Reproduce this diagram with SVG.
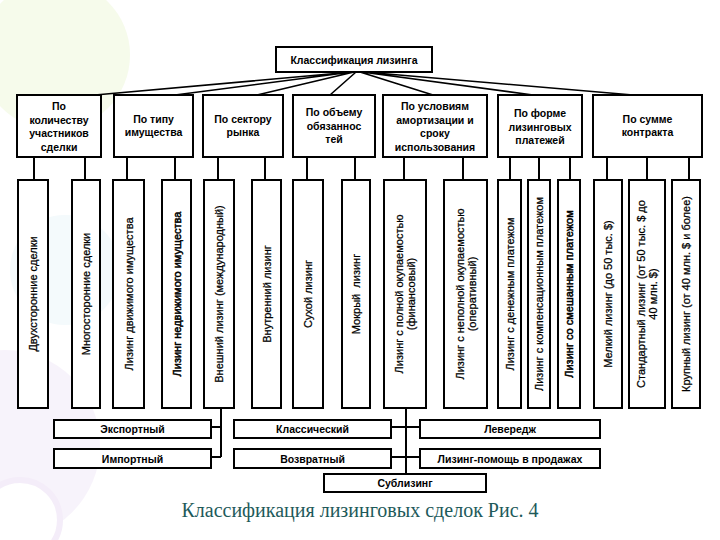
<svg xmlns="http://www.w3.org/2000/svg" width="720" height="540" viewBox="0 0 720 540">
<style>
.box{fill:#fff;stroke:#000;stroke-width:2}
.ln{stroke:#000;stroke-width:2;fill:none}
.fan{stroke:#000;stroke-width:1.6;fill:none}
.t{font-family:"Liberation Sans",Arial,sans-serif;font-size:10.5px;font-weight:bold;text-anchor:middle;fill:#000}
.v{font-family:"Liberation Sans",Arial,sans-serif;font-size:11px;text-anchor:middle;fill:#000;stroke:#000;stroke-width:0.25;white-space:pre}
.vb{stroke-width:0.5}
.cap{font-family:"Liberation Serif","Times New Roman",serif;font-size:20px;text-anchor:middle;fill:#1e5a5a}
</style>
<rect width="720" height="540" fill="#fff"/>
<g id="decor" opacity="0.5">
<circle cx="55" cy="55" r="75" fill="#eef8d8"/>
<circle cx="65" cy="270" r="55" fill="#eaf6fa"/>
<circle cx="5" cy="445" r="95" fill="#f1e8f8"/>
<circle cx="20" cy="520" r="40" fill="#fff" stroke="#eadcf4" stroke-width="6"/>
</g>
<g id="connectors">
<path class="fan" d="M352 72 L95 95 M352 72 L175 95 M354 72 L257 95 M356 72 L330 95 M360 72 L433 95 M362 72 L533 95 M364 72 L633 95"/>
<path class="ln" d="M34 157V180 M85 157V180 M127 157V180 M175 157V180 M218 157V180 M265 157V180 M307 157V180 M355 157V180 M404 157V180 M463 157V180 M510 157V180 M539 157V180 M570 157V180 M607 157V180 M647 157V180 M689 157V180"/>
<path class="ln" d="M221 408V457 M211 427H221 M211 457H221"/>
<path class="ln" d="M406 408V474 M391 427H420 M391 457H420"/>
</g>
<g id="root"><rect class="box" x="276" y="47" width="156" height="25"/><text class="t" x="354" y="64">Классификация лизинга</text></g>
<g id="c1"><rect class="box" x="17" y="95" width="84" height="62"/><text class="t" x="59" y="110">По</text><text class="t" x="59" y="123.5">количеству</text><text class="t" x="59" y="137">участников</text><text class="t" x="59" y="150.5">сделки</text></g>
<g id="c2"><rect class="box" x="114" y="95" width="79" height="62"/><text class="t" x="153.5" y="123">По типу</text><text class="t" x="153.5" y="136">имущества</text></g>
<g id="c3"><rect class="box" x="203" y="95" width="80" height="62"/><text class="t" x="243" y="123">По сектору</text><text class="t" x="243" y="136">рынка</text></g>
<g id="c4"><rect class="box" x="293" y="95" width="82" height="62"/><text class="t" x="334" y="116">По объему</text><text class="t" x="334" y="129.5">обязаннос</text><text class="t" x="334" y="143">тей</text></g>
<g id="c5"><rect class="box" x="383" y="95" width="104" height="62"/><text class="t" x="435" y="110">По условиям</text><text class="t" x="435" y="123.5">амортизации и</text><text class="t" x="435" y="137">сроку</text><text class="t" x="435" y="150.5">использования</text></g>
<g id="c6"><rect class="box" x="498" y="95" width="84" height="62"/><text class="t" x="540" y="117">По форме</text><text class="t" x="540" y="130.5">лизинговых</text><text class="t" x="540" y="144">платежей</text></g>
<g id="c7"><rect class="box" x="593" y="95" width="109" height="62"/><text class="t" x="647.5" y="123">По сумме</text><text class="t" x="647.5" y="136">контракта</text></g>
<g id="v1"><rect class="box" x="18" y="180" width="30" height="228"/><text class="v" transform="translate(33 294) rotate(-90)" y="4">Двухсторонние сделки</text></g>
<g id="v2"><rect class="box" x="72" y="180" width="28" height="228"/><text class="v" transform="translate(86 294) rotate(-90)" y="4">Многосторонние сделки</text></g>
<g id="v3"><rect class="box" x="113" y="180" width="31" height="228"/><text class="v" transform="translate(128.5 294) rotate(-90)" y="4">Лизинг движимого имущества</text></g>
<g id="v4"><rect class="box" x="162" y="180" width="29" height="228"/><text class="v vb" transform="translate(176.5 294) rotate(-90)" y="4">Лизинг недвижимого имущества</text></g>
<g id="v5"><rect class="box" x="204" y="180" width="30" height="228"/><text class="v" transform="translate(219 294) rotate(-90)" y="4">Внешний лизинг (международный)</text></g>
<g id="v6"><rect class="box" x="252" y="180" width="29" height="228"/><text class="v" transform="translate(266.5 294) rotate(-90)" y="4">Внутренний лизинг</text></g>
<g id="v7"><rect class="box" x="293" y="180" width="30" height="228"/><text class="v" transform="translate(308 294) rotate(-90)" y="4">Сухой лизинг</text></g>
<g id="v8"><rect class="box" x="342" y="180" width="28" height="228"/><text class="v" transform="translate(356 294) rotate(-90)" y="4">Мокрый  лизинг</text></g>
<g id="v9"><rect class="box" x="384" y="180" width="42" height="228"/><text class="v" transform="translate(405 294) rotate(-90)" y="-2">Лизинг с полной окупаемостью</text><text class="v" transform="translate(405 294) rotate(-90)" y="10">(финансовый)</text></g>
<g id="v10"><rect class="box" x="444" y="180" width="43" height="228"/><text class="v" transform="translate(465.5 294) rotate(-90)" y="-2">Лизинг с неполной окупаемостью</text><text class="v" transform="translate(465.5 294) rotate(-90)" y="10">(оперативный)</text></g>
<g id="v11"><rect class="box" x="498" y="180" width="23" height="228"/><text class="v" transform="translate(509.5 294) rotate(-90)" y="4">Лизинг с денежным платежом</text></g>
<g id="v12"><rect class="box" x="528" y="180" width="22" height="228"/><text class="v" transform="translate(539 294) rotate(-90)" y="4">Лизинг с компенсационным платежом</text></g>
<g id="v13"><rect class="box" x="558" y="180" width="22" height="228"/><text class="v vb" transform="translate(569 294) rotate(-90)" y="4">Лизинг со смешанным платежом</text></g>
<g id="v14"><rect class="box" x="594" y="180" width="28" height="228"/><text class="v" transform="translate(608 294) rotate(-90)" y="4">Мелкий лизинг (до 50 тыс. $)</text></g>
<g id="v15"><rect class="box" x="629" y="180" width="36" height="228"/><text class="v" transform="translate(647 294) rotate(-90)" y="-2">Стандартный лизинг (от 50 тыс. $ до</text><text class="v" transform="translate(647 294) rotate(-90)" y="10">40 млн. $)</text></g>
<g id="v16"><rect class="box" x="672" y="180" width="28" height="228"/><text class="v" transform="translate(686 294) rotate(-90)" y="4">Крупный лизинг (от 40 млн. $ и более)</text></g>
<g id="b1"><rect class="box" x="54" y="420" width="157" height="18"/><text class="t" x="132.5" y="433">Экспортный</text></g>
<g id="b2"><rect class="box" x="54" y="449" width="157" height="19"/><text class="t" x="132.5" y="462.5">Импортный</text></g>
<g id="b3"><rect class="box" x="234" y="420" width="157" height="18"/><text class="t" x="312.5" y="433">Классический</text></g>
<g id="b4"><rect class="box" x="234" y="449" width="157" height="19"/><text class="t" x="312.5" y="462.5">Возвратный</text></g>
<g id="b5"><rect class="box" x="420" y="420" width="180" height="18"/><text class="t" x="510" y="433">Левередж</text></g>
<g id="b6"><rect class="box" x="420" y="449" width="180" height="19"/><text class="t" x="510" y="462.5">Лизинг-помощь в продажах</text></g>
<g id="b7"><rect class="box" x="324" y="474" width="162" height="18"/><text class="t" x="405" y="487">Сублизинг</text></g>
<text class="cap" x="360" y="517">Классификация лизинговых сделок Рис. 4</text>
</svg>
